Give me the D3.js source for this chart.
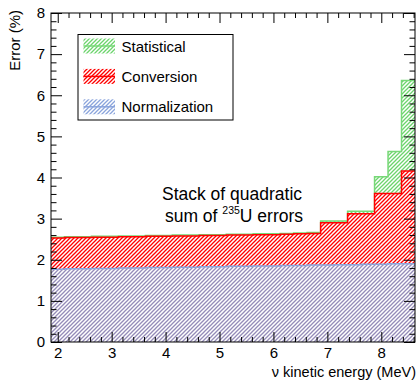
<!DOCTYPE html>
<html>
<head>
<meta charset="utf-8">
<script src="https://cdn.jsdelivr.net/npm/d3@7"></script>
<style>
  html, body { margin: 0; padding: 0; background: #fff; }
  svg { display: block; }
  text { font-family: "Liberation Sans", Arial, Helvetica, sans-serif; fill: #000; }
</style>
</head>
<body>
<script>
// ---- data ----
// bin centres (MeV), 0.25 MeV wide bins
const energy = [2.0, 2.25, 2.5, 2.75, 3.0, 3.25, 3.5, 3.75, 4.0, 4.25, 4.5, 4.75, 5.0, 5.25,
                5.5, 5.75, 6.0, 6.25, 6.5, 6.75, 7.0, 7.25, 7.5, 7.75, 8.0, 8.25, 8.5];
// stacked components (%)
const normalization = [1.77, 1.78, 1.78, 1.79, 1.79, 1.80, 1.80, 1.81, 1.81, 1.82, 1.82, 1.83, 1.83, 1.84,
                       1.84, 1.85, 1.85, 1.86, 1.86, 1.87, 1.87, 1.88, 1.88, 1.89, 1.89, 1.90, 1.90];
const conversion    = [0.76, 0.76, 0.76, 0.76, 0.76, 0.76, 0.76, 0.76, 0.76, 0.76, 0.76, 0.76, 0.76, 0.76,
                       0.76, 0.76, 0.76, 0.76, 0.77, 0.77, 1.03, 1.02, 1.24, 1.23, 1.72, 1.71, 2.26];
const statistical   = [0.02, 0.02, 0.02, 0.02, 0.02, 0.02, 0.02, 0.02, 0.02, 0.02, 0.02, 0.02, 0.02, 0.02,
                       0.02, 0.02, 0.02, 0.02, 0.02, 0.02, 0.04, 0.04, 0.06, 0.06, 0.41, 1.02, 2.20];
const binWidth = 0.25;
const seriesKeys = ["Normalization", "Conversion", "Statistical"];
const legendLabels = ["Statistical", "Conversion", "Normalization"];
const xTicks = [2, 3, 4, 5, 6, 7, 8];
const yTicks = [0, 1, 2, 3, 4, 5, 6, 7, 8];
const xDomain = [1.875, 8.625];
const yDomain = [0, 8];

// ---- layout ----
const W = 417, H = 380;
const L = 51, R = 415, T = 13, B = 342;

const svg = d3.select("body").append("svg").attr("width", W).attr("height", H);
const x = d3.scaleLinear().domain(xDomain).range([L, R]);
const y = d3.scaleLinear().domain(yDomain).range([B, T]);

const colors = {
  Statistical:   { line: "#77d877", hatch: "#6cd46c" },
  Conversion:    { line: "#ff0000", hatch: "#ff0000" },
  Normalization: { line: "#8aa4dc", hatch: "#8aa4dc" }
};

// hatch patterns
const defs = svg.append("defs");
function hatch(id, color, bg) {
  const p = defs.append("pattern").attr("id", id).attr("patternUnits", "userSpaceOnUse")
    .attr("width", 4).attr("height", 4);
  if (bg) p.append("rect").attr("width", 4).attr("height", 4).attr("fill", bg);
  p.append("path").attr("d", "M-1,1 L1,-1 M0,4 L4,0 M3,5 L5,3")
    .attr("stroke", color).attr("stroke-width", 1.3).attr("fill", "none");
}
hatch("h-stat", colors.Statistical.hatch, null);
hatch("h-conv", colors.Conversion.hatch, "#fff");
hatch("h-norm", colors.Normalization.hatch, null);
hatch("h-norm-stack", "#948bb8", "#fff");

defs.append("clipPath").attr("id", "plotclip").append("rect")
  .attr("x", L).attr("y", T).attr("width", R - L).attr("height", B - T);

// stack
const table = energy.map((e, i) => ({
  e: e, Normalization: normalization[i], Conversion: conversion[i], Statistical: statistical[i]
}));
const stacked = d3.stack().keys(seriesKeys)(table);

function edgePoints(layer) {
  const pts = layer.map(d => ({ xe: d.data.e - binWidth / 2, v: d[1] }));
  const last = layer[layer.length - 1];
  pts.push({ xe: last.data.e + binWidth / 2, v: last[1] });
  return pts;
}
const area = d3.area().curve(d3.curveStepAfter).x(d => x(d.xe)).y0(y(0)).y1(d => y(d.v));
const line = d3.line().curve(d3.curveStepAfter).x(d => x(d.xe)).y(d => y(d.v));

const plot = svg.append("g").attr("clip-path", "url(#plotclip)");
const fills = { Statistical: "url(#h-stat)", Conversion: "url(#h-conv)", Normalization: "url(#h-norm-stack)" };
[2, 1, 0].forEach(k => {
  const layer = stacked[k];
  const key = layer.key;
  const pts = edgePoints(layer);
  plot.append("path").attr("d", area(pts)).attr("fill", fills[key]);
  plot.append("path").attr("d", line(pts)).attr("fill", "none")
    .attr("stroke", colors[key].line).attr("stroke-width", 1.5);
});

// ---- axes (ticks inside, mirrored) ----
function minorVals(domain, step, majors) {
  const out = [];
  const start = Math.ceil(domain[0] / step - 1e-9);
  const end = Math.floor(domain[1] / step + 1e-9);
  for (let i = start; i <= end; i++) {
    const v = +(i * step).toFixed(6);
    if (!majors.some(m => Math.abs(m - v) < 1e-6)) out.push(v);
  }
  return out;
}
const xMinor = minorVals(xDomain, 0.2, xTicks);
const yMinor = minorVals(yDomain, 0.2, yTicks);

function tickG(axis, tx, ty) {
  const g = svg.append("g").attr("transform", `translate(${tx},${ty})`).call(axis);
  g.select(".domain").remove();
  g.selectAll("line").attr("stroke", "#000").attr("stroke-width", 1);
  return g;
}
// bottom
const gxb = tickG(d3.axisBottom(x).tickValues(xTicks).tickSize(-10).tickPadding(5.5).tickFormat(d3.format("d")), 0, B);
gxb.selectAll("text").attr("font-size", 15).attr("font-family", "Liberation Sans, Arial, sans-serif").attr("fill", "#000");
tickG(d3.axisBottom(x).tickValues(xMinor).tickSize(-5).tickFormat(""), 0, B);
// top
tickG(d3.axisTop(x).tickValues(xTicks).tickSize(-10).tickFormat(""), 0, T);
tickG(d3.axisTop(x).tickValues(xMinor).tickSize(-5).tickFormat(""), 0, T);
// left
const gyl = tickG(d3.axisLeft(y).tickValues(yTicks).tickSize(-11).tickPadding(6).tickFormat(d3.format("d")), L, 0);
gyl.selectAll("text").attr("font-size", 15).attr("font-family", "Liberation Sans, Arial, sans-serif").attr("fill", "#000");
tickG(d3.axisLeft(y).tickValues(yMinor).tickSize(-5.5).tickFormat(""), L, 0);
// right
tickG(d3.axisRight(y).tickValues(yTicks).tickSize(-11).tickFormat(""), R, 0);
tickG(d3.axisRight(y).tickValues(yMinor).tickSize(-5.5).tickFormat(""), R, 0);

// frame
svg.append("rect").attr("x", L).attr("y", T).attr("width", R - L).attr("height", B - T)
  .attr("fill", "none").attr("stroke", "#000").attr("stroke-width", 1);

// axis titles
svg.append("text").attr("transform", `translate(19.5,10) rotate(-90)`)
  .attr("text-anchor", "end").attr("font-size", 15).text("Error (%)");
svg.append("text").attr("x", 416).attr("y", 377).attr("text-anchor", "end")
  .attr("font-size", 14.5).text("\u03BD kinetic energy (MeV)");

// annotation
svg.append("text").attr("x", 232).attr("y", 199.5).attr("text-anchor", "middle")
  .attr("font-size", 17.5).text("Stack of quadratic");
const t2 = svg.append("text").attr("x", 234).attr("y", 221.7).attr("text-anchor", "middle")
  .attr("font-size", 17.5);
t2.append("tspan").text("sum of ");
t2.append("tspan").attr("font-size", 10.5).attr("dy", -8).text("235");
t2.append("tspan").attr("dy", 8).text("U errors");

// legend
const lg = svg.append("g");
lg.append("rect").attr("x", 78).attr("y", 34.5).attr("width", 155).attr("height", 85.5)
  .attr("fill", "#fff").attr("stroke", "#000").attr("stroke-width", 1);
const legFill = { Statistical: "url(#h-stat)", Conversion: "url(#h-conv)", Normalization: "url(#h-norm)" };
legendLabels.forEach((k, i) => {
  const cy = 46 + i * 30.4;
  lg.append("rect").attr("x", 83.5).attr("y", cy - 7.5).attr("width", 31.5).attr("height", 15)
    .attr("fill", legFill[k]);
  lg.append("line").attr("x1", 83.5).attr("x2", 115).attr("y1", cy).attr("y2", cy)
    .attr("stroke", colors[k].line).attr("stroke-width", 1.5);
  lg.append("text").attr("x", 121.5).attr("y", cy + 5.5).attr("font-size", 15).text(k);
});
</script>
</body>
</html>
